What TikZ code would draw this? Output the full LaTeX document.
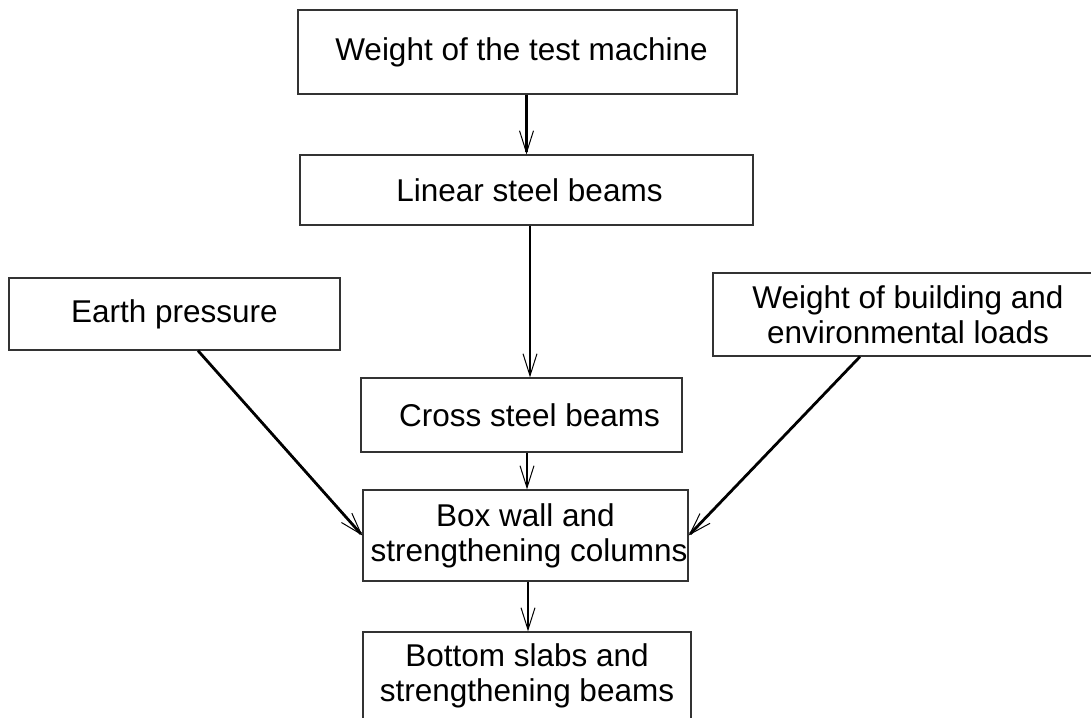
\documentclass[tikz,border=0pt]{standalone}
\usepackage{fontspec}
\setmainfont{Liberation Sans}
\usetikzlibrary{arrows.meta,calc}
\begin{document}
\begin{tikzpicture}[x=1pt,y=-1pt,
  box/.style={draw=black!80,line width=1.3pt,rectangle,inner sep=0pt,align=center,
    font=\fontsize{31.5}{35}\selectfont},
  arr/.style={line width=2.8pt,-{Straight Barb[length=22pt,width=14pt,line width=1pt]}}]
\useasboundingbox (0,0) rectangle (1091,717);
\node[box,minimum width=439pt,minimum height=84pt] (top) at (517.5,52) {\hspace*{8pt}\raisebox{-3pt}{Weight of the test machine}};
\node[box,minimum width=453pt,minimum height=70pt] (lin) at (526.5,190) {\hspace*{6pt}\raisebox{-2pt}{Linear steel beams}};
\node[box,minimum width=331pt,minimum height=72pt] (earth) at (174.5,314) {\raisebox{-4pt}{Earth pressure}};
\node[box,minimum width=390pt,minimum height=83pt] (bldg) at (908,314.5) {Weight of building and\\environmental loads};
\node[box,minimum width=321pt,minimum height=74pt] (cross) at (521.5,415) {\hspace*{16pt}Cross steel beams};
\node[box,minimum width=325pt,minimum height=91pt] (wall) at (525.5,535.5) {Box wall and\\\hspace*{7pt}strengthening columns};
\node[box,minimum width=328pt,minimum height=88pt] (bottom) at (527,676) {Bottom slabs and\\strengthening beams};
\draw[arr] (lin.north |- top.south) -- (lin.north);
\draw[arr] ($(lin.south)+(3.5,0)$) -- ($(lin.south |- cross.north)+(3.5,0)$);
\draw[arr] ($(wall.north |- cross.south)+(1.5,0)$) -- ($(wall.north)+(1.5,0)$);
\draw[arr] ($(wall.south)+(2.5,0)$) -- ($(wall.south |- bottom.north)+(2.5,0)$);
\draw[arr] ($(earth.south)+(23.5,0)$) -- (wall.west);
\draw[arr] ($(bldg.south)+(-48,0)$) -- (wall.east);
\end{tikzpicture}
\end{document}
